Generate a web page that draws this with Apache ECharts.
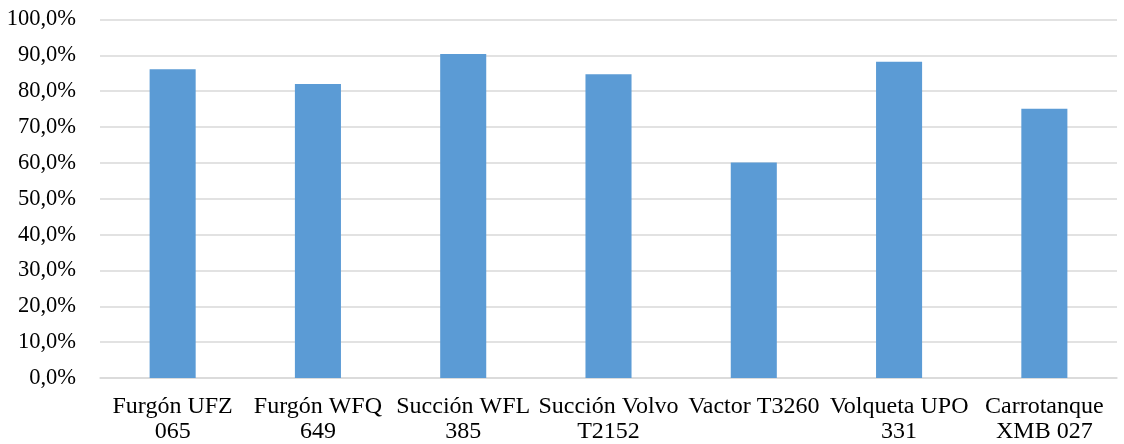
<!DOCTYPE html>
<html>
<head>
<meta charset="utf-8">
<script src="https://cdn.jsdelivr.net/npm/echarts@6/dist/echarts.min.js"></script>
<style>html,body{margin:0;padding:0;background:#fff}#c{width:1124px;height:444px}</style>
</head>
<body>
<div id="c"></div>
<script>
const categories = ['Furgón UFZ\n065', 'Furgón WFQ\n649', 'Succión WFL\n385', 'Succión Volvo\nT2152', 'Vactor T3260', 'Volqueta UPO\n331', 'Carrotanque\nXMB 027'];
const values = [86.1, 82.0, 90.4, 84.7, 60.1, 88.2, 75.1];
const yTicks = { min: 0, max: 100, interval: 10 };

const chart = echarts.init(document.getElementById('c'), null, { renderer: 'canvas' });
chart.setOption({
  animation: false,
  backgroundColor: '#ffffff',
  grid: { left: 100, right: 7, top: 19.5, bottom: 65.5, containLabel: false },
  xAxis: {
    type: 'category',
    data: categories,
    axisLine: { show: true, lineStyle: { color: '#d9d9d9', width: 1.5 } },
    axisTick: { show: false },
    axisLabel: {
      interval: 0,
      margin: 16,
      color: '#000',
      fontFamily: 'Liberation Serif',
      fontSize: 24,
      lineHeight: 25,
      verticalAlign: 'top'
    }
  },
  yAxis: {
    type: 'value',
    min: yTicks.min,
    max: yTicks.max,
    interval: yTicks.interval,
    axisLine: { show: false },
    axisTick: { show: false },
    splitLine: { lineStyle: { color: '#d9d9d9', width: 1.5 } },
    axisLabel: {
      margin: 24,
      color: '#000',
      fontFamily: 'Liberation Serif',
      fontSize: 22.5,
      formatter: v => v.toFixed(1).replace('.', ',') + '%'
    }
  },
  series: [{
    type: 'bar',
    data: values,
    barWidth: '31.7%',
    itemStyle: { color: '#5b9bd5' }
  }]
});
</script>
</body>
</html>
